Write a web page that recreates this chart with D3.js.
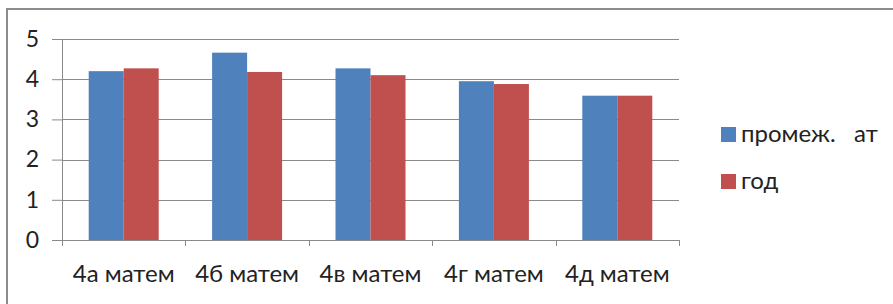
<!DOCTYPE html>
<html>
<head>
<meta charset="utf-8">
<script src="https://cdn.jsdelivr.net/npm/d3@7"></script>
<style>
  body { margin: 0; background: #fff; }
  svg text { font-family: Lato, "Open Sans", sans-serif; fill: #222; }
</style>
</head>
<body>
<div id="chart"></div>
<script>
// data
var categories = ["4а матем", "4б матем", "4в матем", "4г матем", "4д матем"];
var seriesNames = ["промеж.   ат", "год"];
var seriesColors = ["#4f81bd", "#c0504d"];
var promezh = [4.2, 4.66, 4.27, 3.95, 3.59];
var god = [4.27, 4.18, 4.1, 3.88, 3.59];
var yTicks = [0, 1, 2, 3, 4, 5];

var width = 893, height = 304;
var margin = { top: 39, left: 62, right: 214, bottom: 64 };
var plotW = width - margin.left - margin.right;
var plotH = height - margin.top - margin.bottom;

var svg = d3.select("#chart").append("svg")
  .attr("width", width)
  .attr("height", height);

// outer frame (only top and left edges show)
svg.append("line").attr("x1", 6).attr("x2", width).attr("y1", 9).attr("y2", 9)
  .attr("stroke", "#8c8c8c").attr("stroke-width", 2);
svg.append("line").attr("x1", 7).attr("x2", 7).attr("y1", 8).attr("y2", height)
  .attr("stroke", "#8c8c8c").attr("stroke-width", 2);

var g = svg.append("g").attr("transform", "translate(" + margin.left + "," + margin.top + ")");

var x = d3.scaleBand().domain(categories).range([0, plotW]);
var x1 = d3.scaleBand().domain([0, 1]).range([x.bandwidth() / 2 - 35, x.bandwidth() / 2 + 35]);
var y = d3.scaleLinear().domain([0, 5]).range([plotH, 0]);

// gridlines
g.selectAll(".grid").data(yTicks.slice(1)).enter().append("line")
  .attr("x1", 0).attr("x2", plotW)
  .attr("y1", function(d) { return Math.round(y(d)) + 0.5; })
  .attr("y2", function(d) { return Math.round(y(d)) + 0.5; })
  .attr("stroke", "#8a8a8a");

// y axis
var yAxis = g.append("g").call(d3.axisLeft(y).tickValues(yTicks).tickSize(10).tickPadding(13).tickFormat(d3.format("d")));
yAxis.select(".domain").attr("stroke", "#8a8a8a").attr("d", "M0.5," + plotH + "V0");
yAxis.selectAll(".tick line").attr("stroke", "#8a8a8a");
yAxis.selectAll("text").style("font-size", "23px").attr("fill", "#222");

// bars
var data = categories.map(function(c, i) { return { cat: c, vals: [promezh[i], god[i]] }; });
var groups = g.selectAll(".grp").data(data).enter().append("g")
  .attr("transform", function(d) { return "translate(" + x(d.cat) + ",0)"; });
groups.selectAll("rect").data(function(d) { return d.vals; }).enter().append("rect")
  .attr("x", function(d, i) { return x1(i); })
  .attr("width", x1.bandwidth())
  .attr("y", function(d) { return y(d); })
  .attr("height", function(d) { return plotH - y(d); })
  .attr("fill", function(d, i) { return seriesColors[i]; });

// x axis
var xAxis = g.append("g").attr("transform", "translate(0," + plotH + ")")
  .call(d3.axisBottom(x).tickSize(0));
xAxis.select(".domain").attr("stroke", "#8a8a8a").attr("d", "M0,0.5H" + plotW);
xAxis.selectAll("text").attr("y", 42).attr("dy", 0)
  .style("font-size", "24px").attr("fill", "#222");
g.selectAll(".xtick").data(d3.range(categories.length + 1)).enter().append("line")
  .attr("x1", function(i) { return Math.round(i * x.step()) + 0.5; })
  .attr("x2", function(i) { return Math.round(i * x.step()) + 0.5; })
  .attr("y1", plotH).attr("y2", plotH + 6)
  .attr("stroke", "#8a8a8a");

// legend
var legend = svg.append("g").attr("transform", "translate(721,127)");
var items = legend.selectAll("g").data(seriesNames).enter().append("g")
  .attr("transform", function(d, i) { return "translate(0," + (i * 47) + ")"; });
items.append("rect").attr("width", 15).attr("height", 15)
  .attr("fill", function(d, i) { return seriesColors[i]; });
items.append("text").attr("x", 20).attr("y", 15)
  .attr("xml:space", "preserve")
  .style("font-size", "24px").style("white-space", "pre")
  .text(function(d) { return d; });
</script>
</body>
</html>
